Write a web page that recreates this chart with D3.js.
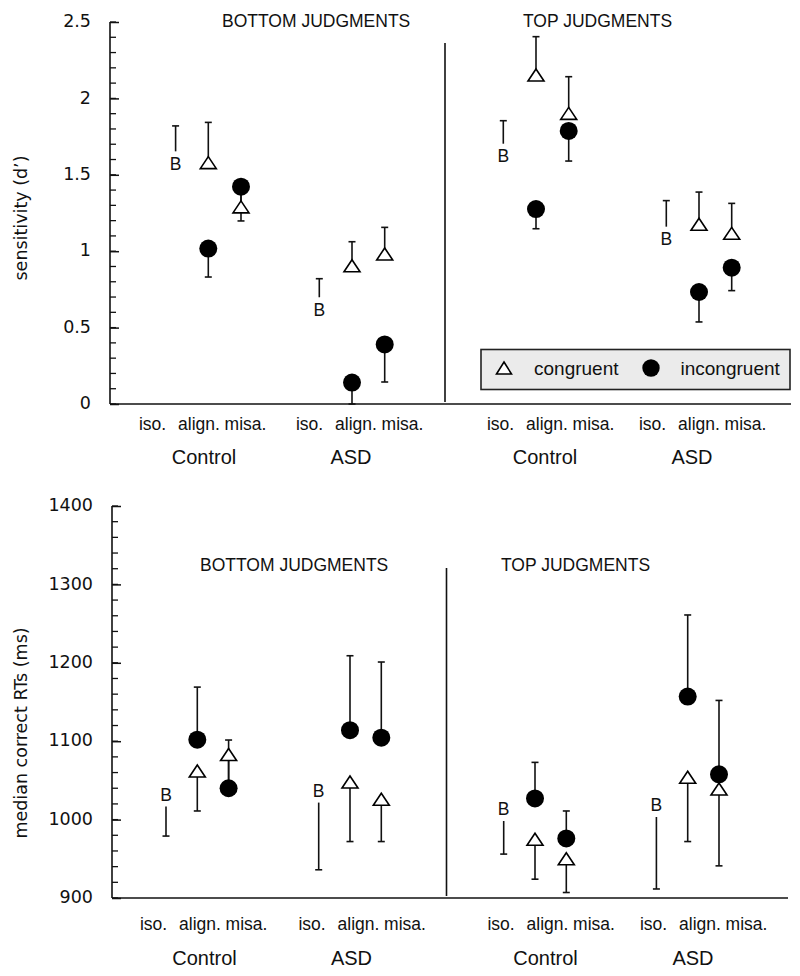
<!DOCTYPE html>
<html>
<head>
<meta charset="utf-8">
<script src="https://cdn.jsdelivr.net/npm/d3@7"></script>
<style>
  html, body { margin: 0; padding: 0; background: #fff; }
  svg { display: block; }
</style>
</head>
<body>
<svg id="chart" width="800" height="976"></svg>
<script>
// ---------------- DATA ----------------
const conditions = ["iso.", "align.", "misa."];
const groups = ["Control", "ASD"];
const judgments = ["BOTTOM JUDGMENTS", "TOP JUDGMENTS"];
const legendLabels = ["congruent", "incongruent"];

// cell order: [BOTTOM-Control, BOTTOM-ASD, TOP-Control, TOP-ASD]
// d' (sensitivity)
const dBaseline      = [1.575, 0.62, 1.625, 1.082];
const dBaselineBound = [1.82, 0.82, 1.854, 1.331];
// pairs per cell: [align, misa]
const dCongruent        = [1.58, 1.29, 0.905, 0.982, 2.153, 1.902, 1.176, 1.117];
const dCongruentBound   = [1.843, 1.40, 1.062, 1.156, 2.404, 2.142, 1.387, 1.313];
const dIncongruent      = [1.017, 1.422, 0.14, 0.39, 1.276, 1.787, 0.733, 0.892];
const dIncongruentBound = [0.831, 1.198, 0.0, 0.144, 1.147, 1.59, 0.537, 0.742];
const dTicks = [0, 0.5, 1, 1.5, 2, 2.5];

// median correct RTs (ms)
const rtBaseline      = [1032, 1037, 1013.5, 1018.6];
const rtBaselineBound = [979, 936, 956, 911.5];
const rtCongruent        = [1062, 1083, 1048, 1026, 975, 950, 1054, 1039];
const rtCongruentBound   = [1011, 1045, 972, 972, 924, 907, 972, 941];
const rtIncongruent      = [1102, 1040, 1114, 1104.5, 1027, 976, 1157, 1057.7];
const rtIncongruentBound = [1169, 1101.5, 1209, 1201, 1073, 1011, 1261, 1152];
const rtTicks = [900, 1000, 1100, 1200, 1300, 1400];

// ---------------- LAYOUT ----------------
const svg = d3.select("#chart");
const SANS = "'Liberation Sans', Arial, Helvetica, sans-serif";
const TICKFONT = "'DejaVu Sans', Verdana, sans-serif";
const cellKeys = [];
judgments.forEach(j => groups.forEach(g => cellKeys.push(j + "|" + g)));

const charts = [
  {
    yDomain: [0, 2.5], yRange: [404, 22], axisX: 110, axisRight: 791,
    minorStep: 0.1, ticks: dTicks, tickFmt: d => d3.format("")(d),
    divider: {x: 445, y1: 43},
    titleY: 27, titleX: [222, 523],
    yTitle: "sensitivity (d\u2019)", yTitleY: 218,
    dataCenters: [208.3, 352, 536, 699], dataStep: 32.7,
    labelCenters: [199, 356, 547, 699], labelStep: 46.5,
    groupCenters: [204, 351, 545, 692],
    condBaseline: 430, groupBaseline: 464,
    baseline: dBaseline, baselineBound: dBaselineBound,
    cong: dCongruent, congBound: dCongruentBound,
    incong: dIncongruent, incongBound: dIncongruentBound,
    legend: true
  },
  {
    yDomain: [900, 1400], yRange: [898, 506], axisX: 112, axisRight: 788,
    minorStep: 20, ticks: rtTicks, tickFmt: d => String(d),
    divider: {x: 446.5, y1: 568},
    titleY: 571, titleX: [200, 501],
    yTitle: "median correct RTs (ms)", yTitleY: 733,
    dataCenters: [197.3, 350, 535, 687.7], dataStep: 31.3,
    labelCenters: [200, 358.5, 547.5, 700], labelStep: 46.5,
    groupCenters: [204.5, 351.5, 545.5, 693],
    condBaseline: 930, groupBaseline: 965,
    baseline: rtBaseline, baselineBound: rtBaselineBound,
    cong: rtCongruent, congBound: rtCongruentBound,
    incong: rtIncongruent, incongBound: rtIncongruentBound,
    legend: false
  }
];

function trianglePath(w, h) {
  return `M0,${-h/2}L${w/2},${h/2}L${-w/2},${h/2}Z`;
}
const TRI = trianglePath(16, 12);
const R = 9;
const CAP = 3.5;

charts.forEach(c => {
  const g = svg.append("g");
  const y = d3.scaleLinear().domain(c.yDomain).range(c.yRange);
  const xCell = d3.scaleOrdinal().domain(cellKeys).range(c.dataCenters);
  const xCond = d3.scalePoint().domain(conditions).range([-c.dataStep, c.dataStep]);
  const xLabCell = d3.scaleOrdinal().domain(cellKeys).range(c.labelCenters);
  const xLabCond = d3.scalePoint().domain(conditions).range([-c.labelStep, c.labelStep]);
  const xGroup = d3.scaleOrdinal().domain(cellKeys).range(c.groupCenters);

  const y0 = c.yRange[0];

  // Minor ticks
  const minor = d3.range(c.yDomain[0], c.yDomain[1] + c.minorStep / 2, c.minorStep);
  g.append("g").selectAll("line").data(minor).join("line")
    .attr("x1", c.axisX).attr("x2", c.axisX + 6)
    .attr("y1", d => y(d)).attr("y2", d => y(d))
    .attr("stroke", "#111").attr("stroke-width", 1.3);

  // Major ticks via d3 axis (inward)
  const axis = d3.axisRight(y).tickValues(c.ticks).tickSize(9).tickFormat("");
  const ax = g.append("g").attr("transform", `translate(${c.axisX},0)`).call(axis);
  ax.select(".domain").remove();
  ax.selectAll(".tick line").attr("stroke", "#111").attr("stroke-width", 1.5);

  // Tick labels
  g.append("g").selectAll("text").data(c.ticks).join("text")
    .attr("x", c.axisX - 19).attr("y", d => y(d))
    .attr("dy", "0.3em")
    .attr("text-anchor", "end")
    .attr("font-family", TICKFONT).attr("font-size", 17.5)
    .attr("fill", "#111")
    .text(c.tickFmt);

  // y axis line
  g.append("line").attr("x1", c.axisX).attr("x2", c.axisX)
    .attr("y1", c.yRange[1]).attr("y2", y0)
    .attr("stroke", "#111").attr("stroke-width", 1.6);
  // x axis line
  g.append("line").attr("x1", c.axisX).attr("x2", c.axisRight)
    .attr("y1", y0).attr("y2", y0)
    .attr("stroke", "#111").attr("stroke-width", 1.6);
  // divider
  g.append("line").attr("x1", c.divider.x).attr("x2", c.divider.x)
    .attr("y1", c.divider.y1).attr("y2", y0 - 2)
    .attr("stroke", "#111").attr("stroke-width", 1.6);

  // y title
  g.append("text")
    .attr("transform", `translate(27,${c.yTitleY}) rotate(-90)`)
    .attr("text-anchor", "middle")
    .attr("font-family", TICKFONT).attr("font-size", 17.5)
    .attr("fill", "#111")
    .text(c.yTitle);

  // panel titles
  g.append("g").selectAll("text").data(judgments).join("text")
    .attr("x", (d, i) => c.titleX[i]).attr("y", c.titleY)
    .attr("font-family", SANS).attr("font-size", 17.5)
    .attr("fill", "#111")
    .text(d => d);

  // condition labels and group labels
  cellKeys.forEach(key => {
    g.append("g").selectAll("text").data(conditions).join("text")
      .attr("x", d => xLabCell(key) + xLabCond(d))
      .attr("y", c.condBaseline)
      .attr("text-anchor", "middle")
      .attr("font-family", SANS).attr("font-size", 17.5)
      .attr("fill", "#111")
      .text(d => d);
    g.append("text")
      .attr("x", xGroup(key)).attr("y", c.groupBaseline)
      .attr("text-anchor", "middle")
      .attr("font-family", SANS).attr("font-size", 20)
      .attr("fill", "#111")
      .text(key.split("|")[1]);
  });

  // build point records
  const baseRecs = cellKeys.map((key, i) => ({
    x: xCell(key) + xCond("iso."), v: c.baseline[i], b: c.baselineBound[i]
  }));
  const congRecs = [], incRecs = [];
  cellKeys.forEach((key, i) => {
    ["align.", "misa."].forEach((cond, k) => {
      const x = xCell(key) + xCond(cond);
      congRecs.push({x, v: c.cong[i * 2 + k], b: c.congBound[i * 2 + k]});
      incRecs.push({x, v: c.incong[i * 2 + k], b: c.incongBound[i * 2 + k]});
    });
  });

  const eb = g.append("g").attr("stroke", "#111").attr("stroke-width", 1.6);
  function errorBar(r, gap) {
    const yv = y(r.v), yb = y(r.b);
    const dir = yb < yv ? -1 : 1;
    eb.append("line").attr("x1", r.x).attr("x2", r.x)
      .attr("y1", yv + dir * gap).attr("y2", yb);
    eb.append("line").attr("x1", r.x - CAP).attr("x2", r.x + CAP)
      .attr("y1", yb).attr("y2", yb);
  }
  congRecs.forEach(r => errorBar(r, 0));
  incRecs.forEach(r => errorBar(r, 0));
  baseRecs.forEach(r => errorBar(r, 12));

  // baseline "B"
  g.append("g").selectAll("text").data(baseRecs).join("text")
    .attr("x", d => d.x).attr("y", d => y(d.v))
    .attr("dy", "0.36em")
    .attr("text-anchor", "middle")
    .attr("font-family", SANS).attr("font-size", 17.5)
    .attr("fill", "#111")
    .text("B");

  // incongruent circles
  g.append("g").selectAll("circle").data(incRecs).join("circle")
    .attr("cx", d => d.x).attr("cy", d => y(d.v)).attr("r", R)
    .attr("fill", "#000");

  // congruent triangles
  g.append("g").selectAll("path").data(congRecs).join("path")
    .attr("d", TRI)
    .attr("transform", d => `translate(${d.x},${y(d.v)})`)
    .attr("fill", "#fff").attr("stroke", "#000").attr("stroke-width", 1.6)
    .attr("stroke-linejoin", "miter");

  // legend
  if (c.legend) {
    const lg = g.append("g");
    lg.append("rect").attr("x", 481).attr("y", 349.5).attr("width", 309).attr("height", 40)
      .attr("fill", "#ebebeb").attr("stroke", "#222").attr("stroke-width", 1.6);
    lg.append("path").attr("d", trianglePath(15, 12))
      .attr("transform", "translate(504,368)")
      .attr("fill", "#fff").attr("stroke", "#000").attr("stroke-width", 1.6);
    lg.append("circle").attr("cx", 651).attr("cy", 368).attr("r", 8.7).attr("fill", "#000");
    lg.selectAll("text.leg").data(legendLabels).join("text")
      .attr("class", "leg")
      .attr("x", (d, i) => i === 0 ? 534 : 680.5).attr("y", 375)
      .attr("font-family", SANS).attr("font-size", 19)
      .attr("fill", "#111")
      .text(d => d);
  }
});
</script>
</body>
</html>
